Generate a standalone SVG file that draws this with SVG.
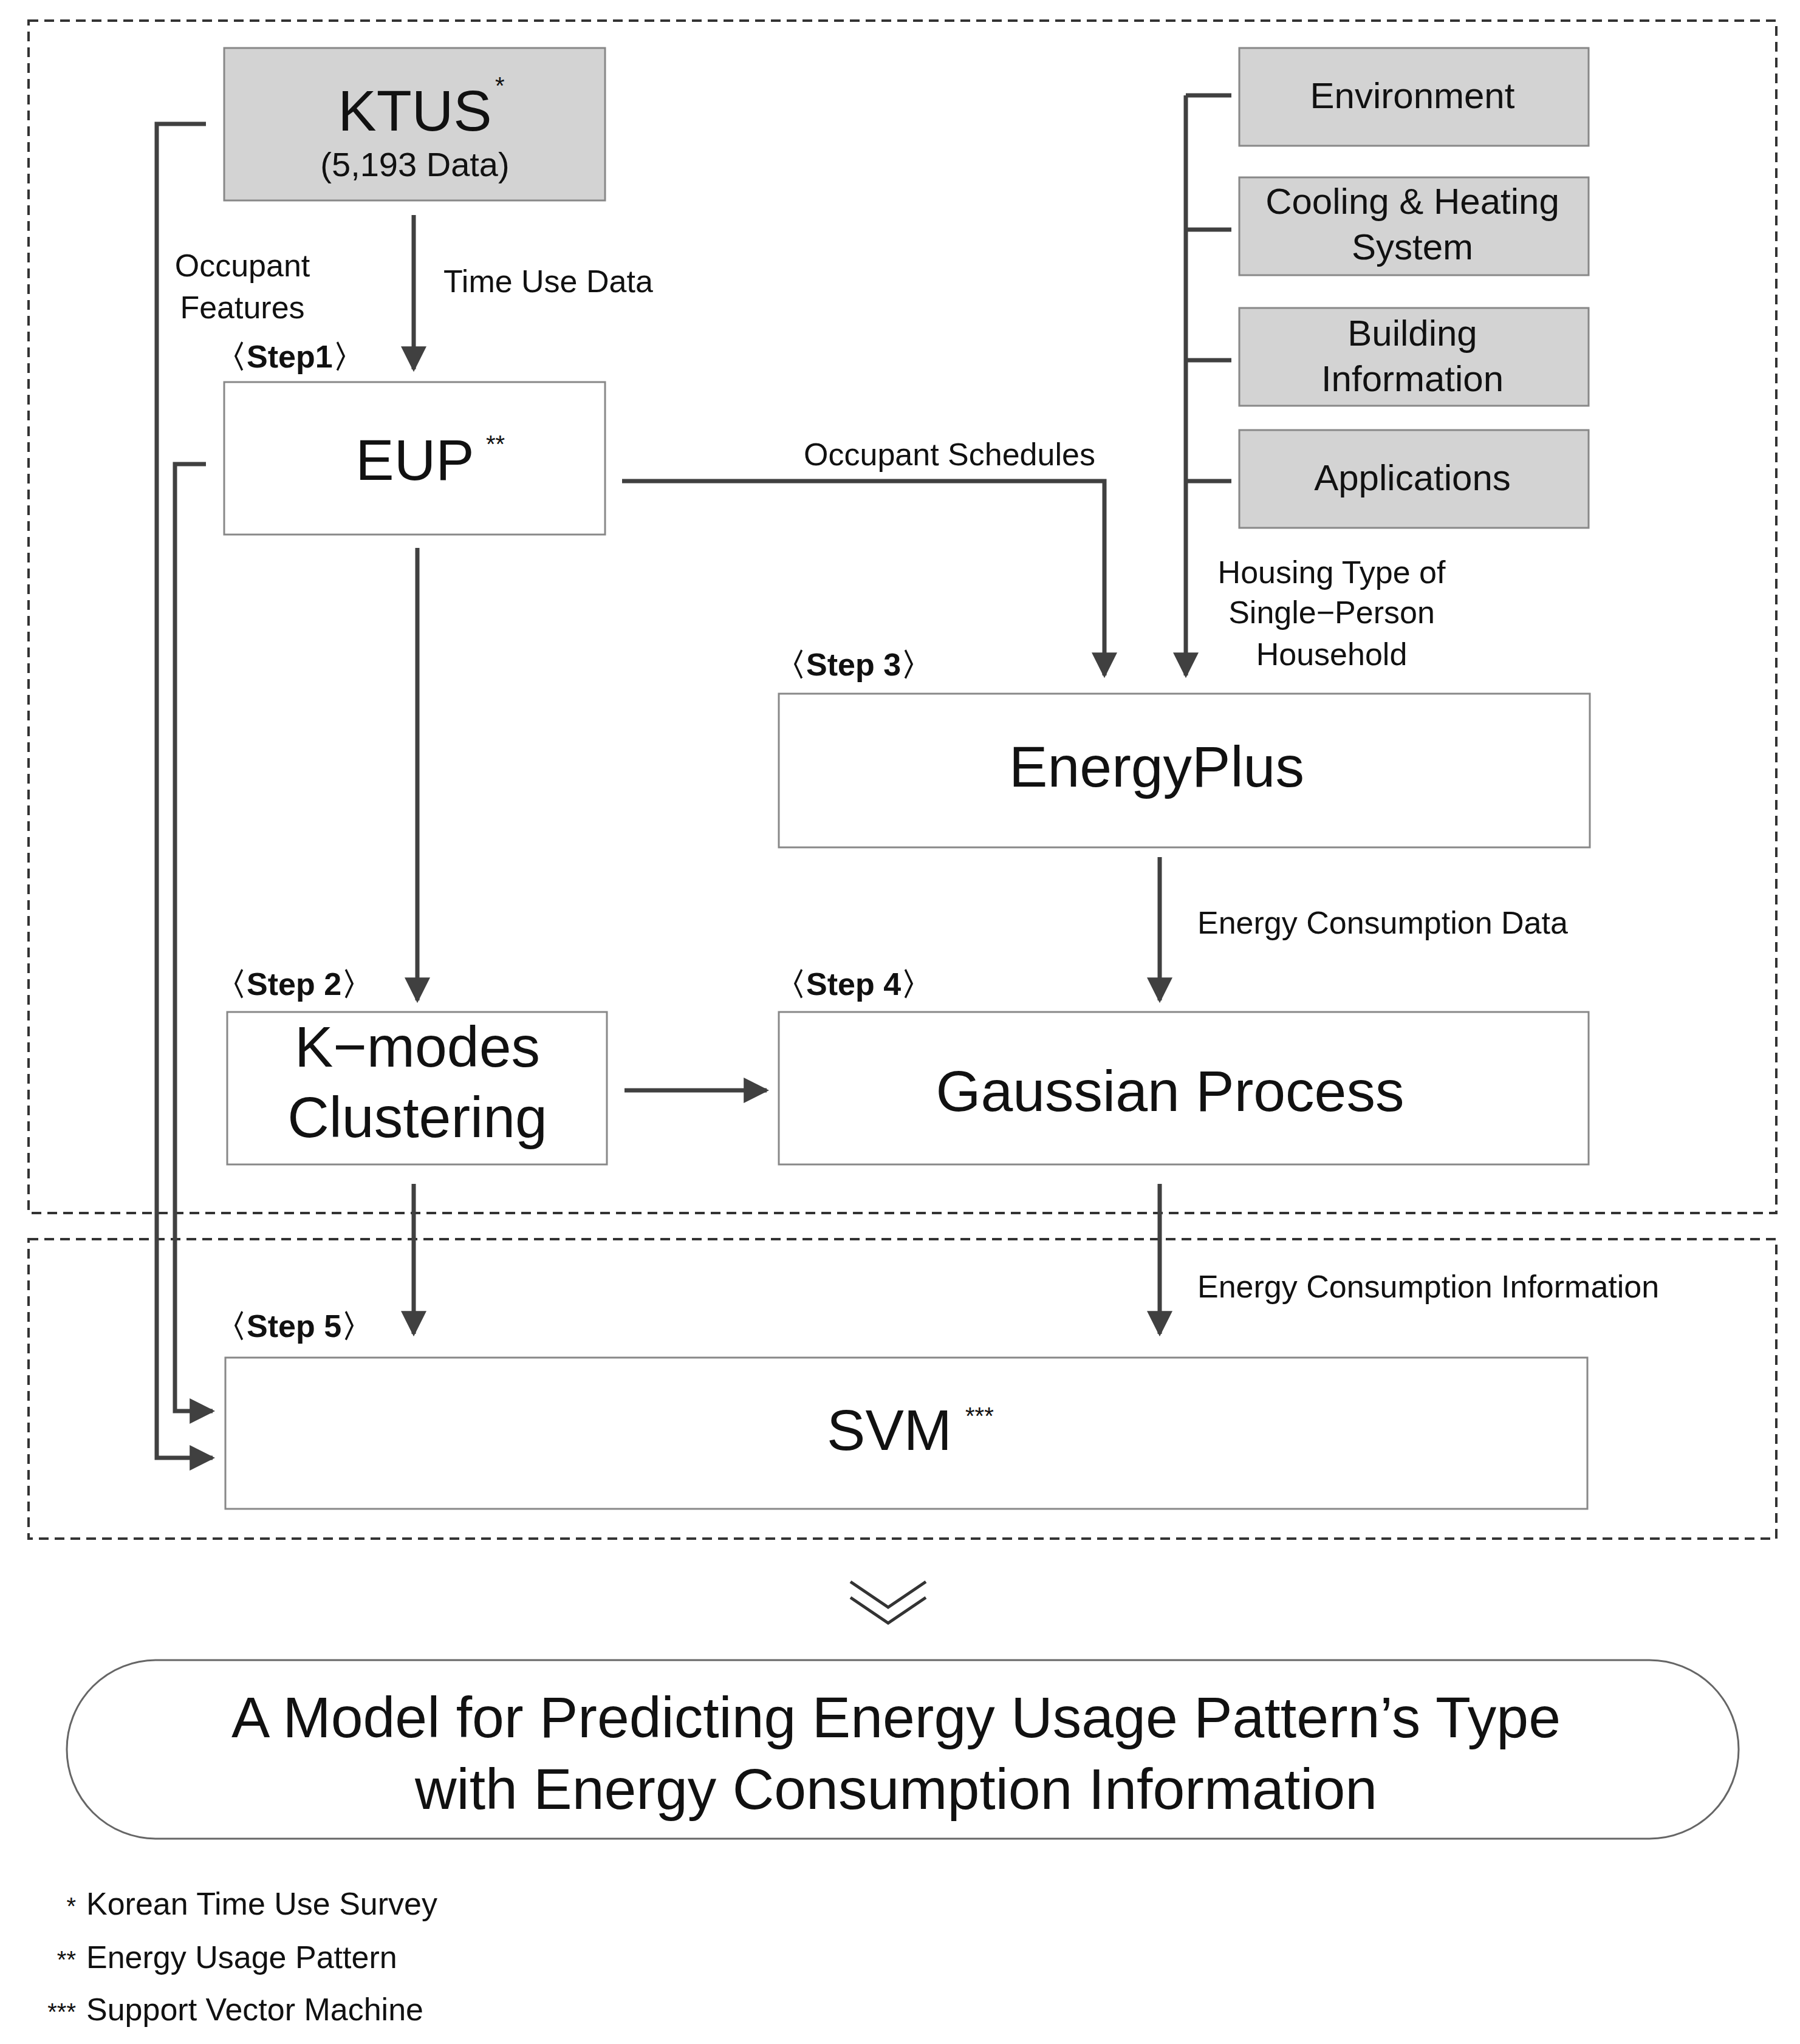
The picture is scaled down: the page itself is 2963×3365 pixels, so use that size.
<svg xmlns="http://www.w3.org/2000/svg" width="2963" height="3365" viewBox="0 0 2963 3365">
<style>
text{font-family:"Liberation Sans","Noto Sans",sans-serif;fill:#111}
.box{fill:#fff;stroke:#888;stroke-width:3}
.gray{fill:#d3d3d3;stroke:#888;stroke-width:3}
.dash{fill:none;stroke:#333;stroke-width:4;stroke-dasharray:16 10}
.ln{fill:none;stroke:#404040;stroke-width:7}
.ar{fill:none;stroke:#404040;stroke-width:7;marker-end:url(#ah)}
.lbl{font-size:52px}
.step{font-size:52px;font-weight:bold}
.c{text-anchor:middle}
</style>
<defs>
<marker id="ah" viewBox="0 0 10 10" refX="9" refY="5" markerWidth="6" markerHeight="6" orient="auto" markerUnits="strokeWidth">
<path d="M0,0 L10,5 L0,10 z" fill="#404040"/>
</marker>
</defs>
<rect class="dash" x="47" y="34" width="2877" height="1963"/>
<rect class="dash" x="47" y="2040" width="2877" height="493"/>
<g id="ktus"><rect class="gray" x="369" y="79" width="627" height="251"/>
<text class="c" x="683" y="215" font-size="95">KTUS</text><text x="815" y="155" font-size="40">*</text>
<text class="c" x="683" y="290" font-size="56">(5,193 Data)</text></g>
<g id="eup"><rect class="box" x="369" y="629" width="627" height="251"/>
<text class="c" x="683" y="790" font-size="95">EUP</text><text x="800" y="745" font-size="40">**</text>
<text class="step" x="354" y="605">〈Step1〉</text></g>
<g id="kmodes"><rect class="box" x="374" y="1666" width="625" height="251"/>
<text class="c" x="687" y="1756" font-size="95">K−modes</text><text class="c" x="687" y="1872" font-size="95">Clustering</text>
<text class="step" x="354" y="1638">〈Step 2〉</text></g>
<g id="energyplus"><rect class="box" x="1282" y="1142" width="1335" height="253"/>
<text class="c" x="1904" y="1295" font-size="95">EnergyPlus</text>
<text class="step" x="1275" y="1112">〈Step 3〉</text></g>
<g id="gaussian"><rect class="box" x="1282" y="1666" width="1333" height="251"/>
<text class="c" x="1926" y="1829" font-size="95">Gaussian Process</text>
<text class="step" x="1275" y="1638">〈Step 4〉</text></g>
<g id="svm"><rect class="box" x="371" y="2235" width="2242" height="249"/>
<text class="c" x="1464" y="2387" font-size="95">SVM</text><text x="1589" y="2345" font-size="40">***</text>
<text class="step" x="354" y="2201">〈Step 5〉</text></g>
<g id="env"><rect class="gray" x="2040" y="79" width="575" height="161"/><text class="c" x="2325" y="178" font-size="60">Environment</text></g>
<g id="cool"><rect class="gray" x="2040" y="292" width="575" height="161"/><text class="c" x="2325" y="352" font-size="60">Cooling &amp; Heating</text><text class="c" x="2325" y="427" font-size="60">System</text></g>
<g id="bldg"><rect class="gray" x="2040" y="507" width="575" height="161"/><text class="c" x="2325" y="569" font-size="60">Building</text><text class="c" x="2325" y="644" font-size="60">Information</text></g>
<g id="apps"><rect class="gray" x="2040" y="708" width="575" height="161"/><text class="c" x="2325" y="807" font-size="60">Applications</text></g>
<g id="connectors">
<path class="ar" d="M681,354 V608"/>
<path class="ar" d="M339,204 H258 V2400 H350"/>
<path class="ar" d="M339,764 H288 V2323 H350"/>
<path class="ar" d="M687,902 V1647"/>
<path class="ar" d="M1024,792 H1818 V1112"/>
<path class="ar" d="M1952,157 V1112"/>
<path class="ln" d="M1952,157 H2027 M1952,378 H2027 M1952,593 H2027 M1952,792 H2027"/>
<path class="ar" d="M1909,1411 V1647"/>
<path class="ar" d="M1028,1795 H1262"/>
<path class="ar" d="M681,1949 V2196"/>
<path class="ar" d="M1909,1949 V2196"/>
</g>
<g id="labels">
<text class="lbl c" x="399" y="455">Occupant</text><text class="lbl c" x="399" y="524">Features</text>
<text class="lbl" x="730" y="481">Time Use Data</text>
<text class="lbl c" x="1563" y="766">Occupant Schedules</text>
<text class="lbl c" x="2192" y="960">Housing Type of</text><text class="lbl c" x="2192" y="1026">Single−Person</text><text class="lbl c" x="2192" y="1095">Household</text>
<text class="lbl" x="1971" y="1537">Energy Consumption Data</text>
<text class="lbl" x="1971" y="2136">Energy Consumption Information</text>
</g>
<path d="M1400,2604 L1462,2646 L1524,2604 M1400,2630 L1462,2672 L1524,2630" fill="none" stroke="#333" stroke-width="5"/>
<g id="result"><rect x="110" y="2733" width="2752" height="294" rx="147" fill="#fff" stroke="#666" stroke-width="3"/>
<text class="c" x="1475" y="2860" font-size="95">A Model for Predicting Energy Usage Pattern’s Type</text>
<text class="c" x="1475" y="2978" font-size="95">with Energy Consumption Information</text></g>
<g id="notes" font-size="52">
<text x="125" y="3152" text-anchor="end" font-size="40">*</text><text class="lbl" x="142" y="3152">Korean Time Use Survey</text>
<text x="125" y="3240" text-anchor="end" font-size="40">**</text><text class="lbl" x="142" y="3240">Energy Usage Pattern</text>
<text x="125" y="3326" text-anchor="end" font-size="40">***</text><text class="lbl" x="142" y="3326">Support Vector Machine</text>
</g>
</svg>
